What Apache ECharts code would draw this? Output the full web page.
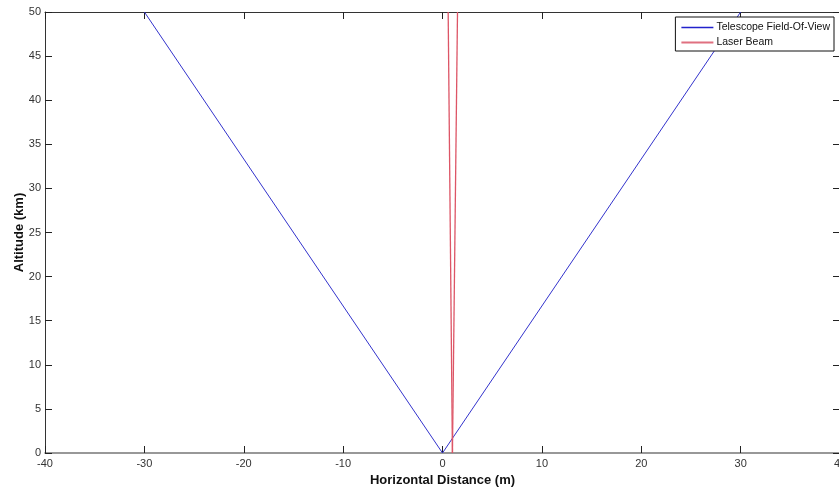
<!DOCTYPE html>
<html>
<head>
<meta charset="utf-8">
<script src="https://cdn.jsdelivr.net/npm/echarts@6/dist/echarts.min.js"></script>
<style>
  html, body { margin: 0; padding: 0; background: #fff; }
  #chart { width: 839px; height: 487px; }
</style>
</head>
<body>
<div id="chart"></div>
<script>
// Telescope field-of-view: V-shaped cone opening from the ground station
const fovX = [-30, 0, 30];
const fovAlt = [50, 0, 50];

// Laser beam edges (metres), diverging slightly with altitude (km)
const beamLeftX = [1.0, 0.57];
const beamRightX = [1.0, 1.51];
const beamAlt = [0, 50];

// Axis ranges and ticks
const xMin = -40, xMax = 40, xStep = 10;
const yMin = 0, yMax = 50, yStep = 5;

const toPairs = (xs, ys) => xs.map((x, i) => [x, ys[i]]);

const font = '"Liberation Sans", Arial, sans-serif';
const chart = echarts.init(document.getElementById('chart'), null, { renderer: 'canvas' });

const axisBase = {
  axisTick: { show: true, inside: true, length: 7, lineStyle: { color: '#222', width: 1 } },
  splitLine: { show: false },
};

chart.setOption({
  animation: false,
  backgroundColor: '#fff',
  grid: { left: 45, right: -1, top: 12, bottom: 34, containLabel: false, outerBoundsMode: 'none' },
  legend: {
    right: 5, top: 17,
    orient: 'vertical',
    backgroundColor: '#fff',
    borderColor: '#111', borderWidth: 1, borderRadius: 0,
    padding: [5, 4, 3, 6],
    itemGap: 4,
    itemWidth: 32, itemHeight: 12,
    textStyle: { fontFamily: font, fontSize: 10.5, color: '#111', padding: [0, 0, 0, -2] },
    data: [
      { name: 'Telescope Field-Of-View', icon: 'path://M0,5 L32,5 L32,6.3 L0,6.3 Z', itemStyle: { color: '#2222cc' } },
      { name: 'Laser Beam', icon: 'path://M0,5 L32,5 L32,7 L0,7 Z', itemStyle: { color: '#e07080' } },
    ],
  },
  xAxis: [
    Object.assign({}, axisBase, {
      type: 'value', position: 'bottom', min: xMin, max: xMax, interval: xStep,
      axisLine: { show: true, onZero: false, lineStyle: { color: '#777', width: 1.5 } },
      axisLabel: { fontFamily: font, fontSize: 11, color: '#333', margin: 5 },
      name: 'Horizontal Distance (m)', nameLocation: 'middle', nameGap: 21,
      nameMoveOverlap: false,
      nameTextStyle: { fontFamily: font, fontSize: 13, fontWeight: 'bold', color: '#111' },
    }),
    Object.assign({}, axisBase, {
      type: 'value', position: 'top', min: xMin, max: xMax, interval: xStep,
      axisLine: { show: true, onZero: false, lineStyle: { color: '#333', width: 1 } },
      axisLabel: { show: false },
    }),
  ],
  yAxis: [
    Object.assign({}, axisBase, {
      type: 'value', position: 'left', min: yMin, max: yMax, interval: yStep,
      axisLine: { show: true, onZero: false, lineStyle: { color: '#333', width: 1 } },
      axisLabel: { fontFamily: font, fontSize: 11, color: '#333', margin: 4 },
      name: 'Altitude (km)', nameLocation: 'middle', nameGap: 19,
      nameMoveOverlap: false,
      nameTextStyle: { fontFamily: font, fontSize: 13, fontWeight: 'bold', color: '#111' },
    }),
    Object.assign({}, axisBase, {
      type: 'value', position: 'right', min: yMin, max: yMax, interval: yStep,
      axisLine: { show: true, onZero: false, lineStyle: { color: '#333', width: 1 } },
      axisLabel: { show: false },
    }),
  ],
  series: [
    {
      name: 'Telescope Field-Of-View', type: 'line', xAxisIndex: 0, yAxisIndex: 0,
      data: toPairs(fovX, fovAlt), showSymbol: false, symbol: 'none',
      lineStyle: { color: '#3333cc', width: 1 }, itemStyle: { color: '#3333cc' },
    },
    {
      name: 'Laser Beam', type: 'line', xAxisIndex: 0, yAxisIndex: 0,
      data: toPairs(beamLeftX, beamAlt), showSymbol: false, symbol: 'none',
      lineStyle: { color: '#dd5566', width: 1.3 }, itemStyle: { color: '#e07080' },
    },
    {
      name: 'Laser Beam', type: 'line', xAxisIndex: 0, yAxisIndex: 0,
      data: toPairs(beamRightX, beamAlt), showSymbol: false, symbol: 'none',
      lineStyle: { color: '#dd5566', width: 1.3 }, itemStyle: { color: '#e07080' },
    },
  ],
});
</script>
</body>
</html>
